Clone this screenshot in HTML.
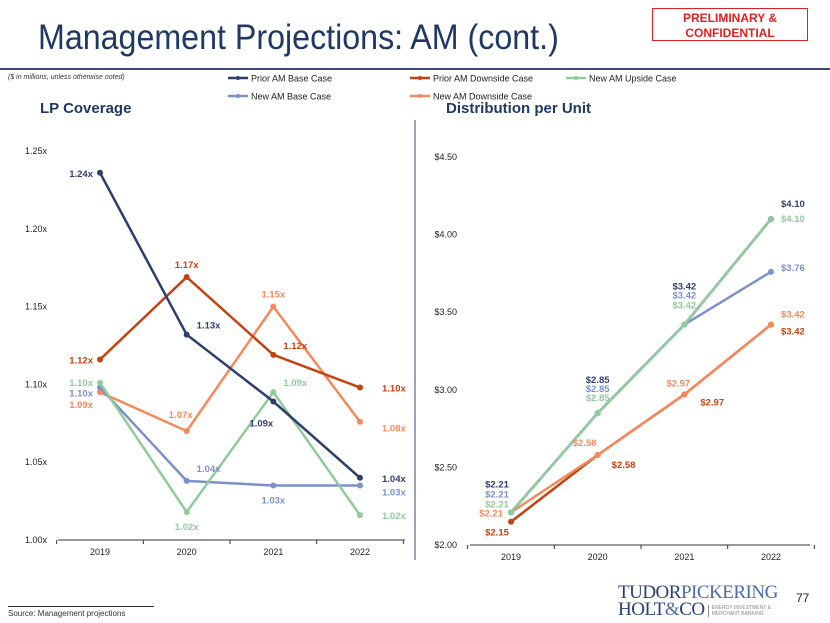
<!DOCTYPE html>
<html><head><meta charset="utf-8">
<style>
body{margin:0;width:830px;height:623px;background:#fff;font-family:"Liberation Sans",sans-serif;overflow:hidden;position:relative}
.abs{position:absolute}
</style></head><body>
<div class="abs" style="left:38px;top:18px;font-size:35px;color:#1F3864;transform:scaleX(0.92);transform-origin:left top;white-space:nowrap">Management Projections: AM (cont.)</div>
<div class="abs" style="left:652px;top:8px;width:156px;height:33px;border:1.5px solid #E02020;color:#E02020;font-weight:bold;font-size:12px;text-align:center;line-height:15px;padding-top:2px;box-sizing:border-box">PRELIMINARY &amp;<br>CONFIDENTIAL</div>
<div class="abs" style="left:0;top:68px;width:830px;height:2px;background:#3A4A7A"></div>
<div class="abs" style="left:8px;top:74px;font-size:7px;font-style:italic;color:#333">($ in millions, unless otherwise noted)</div>
<div class="abs" style="left:40px;top:100px;font-size:15px;font-weight:bold;color:#1F3864">LP Coverage</div>
<div class="abs" style="left:446px;top:100px;font-size:15px;font-weight:bold;color:#1F3864">Distribution per Unit</div>
<div class="abs" style="left:8px;top:606px;width:146px;height:1px;background:#333"></div>
<div class="abs" style="left:8px;top:609px;font-size:8px;color:#333">Source: Management projections</div>
<div class="abs" style="left:796px;top:591px;font-size:12px;color:#222">77</div>
<div class="abs" style="left:618px;top:584px;font-family:'Liberation Serif',serif;color:#2A3F7A;line-height:17px">
<div style="font-size:19px;letter-spacing:-0.5px">TUDOR<span style="color:#4A6AA8">PICKERING</span></div>
<div style="font-size:19px;letter-spacing:-0.5px">HOLT<span style="color:#4A6AA8">&amp;</span>CO<span style="font-family:'Liberation Sans';font-size:5px;color:#888;letter-spacing:0;vertical-align:middle;display:inline-block;line-height:6px;margin-left:3px;border-left:1px solid #888;padding-left:3px">ENERGY INVESTMENT &amp;<br>MERCHANT BANKING</span></div>
</div>
<svg id="chart" class="abs" style="left:0;top:0" width="830" height="623"></svg>
<script>
const years=["2019","2020","2021","2022"];
const seriesNames=["Prior AM Base Case","Prior AM Downside Case","New AM Upside Case","New AM Base Case","New AM Downside Case"];
const colors=["#2E3F6E","#C4420F","#8FCB9C","#7B90CC","#F48A5C"];
const lpPriorBase=[1.236,1.132,1.089,1.040];
const lpPriorDown=[1.116,1.169,1.119,1.098];
const lpNewUp=[1.101,1.018,1.095,1.016];
const lpNewBase=[1.098,1.038,1.035,1.035];
const lpNewDown=[1.095,1.070,1.150,1.076];
const lpTicks=[1.00,1.05,1.10,1.15,1.20,1.25];
const dpuPriorBase=[2.21,2.85,3.42,4.10];
const dpuPriorDown=[2.15,2.58,2.97,3.42];
const dpuNewUp=[2.21,2.85,3.42,4.10];
const dpuNewBase=[2.21,2.85,3.42,3.76];
const dpuNewDown=[2.21,2.58,2.97,3.42];
const dpuTicks=[2.00,2.50,3.00,3.50,4.00,4.50];

const svg=document.getElementById('chart');
const NS="http://www.w3.org/2000/svg";
function mk(t,a,p){const e=document.createElementNS(NS,t);for(const k in a)e.setAttribute(k,a[k]);(p||svg).appendChild(e);return e;}
function txt(s,x,y,a,p){const e=mk('text',Object.assign({x:x,y:y},a),p);e.textContent=s;return e;}

const legPos=[[228,78],[410,78],[566,78],[228,96],[410,96]];
seriesNames.forEach((n,i)=>{
  const g=mk('g',{});
  
  
  const [x,y]=legPos[i];
  mk('line',{x1:x,y1:y,x2:x+20,y2:y,stroke:colors[i],'stroke-width':2.5},g);
  mk('circle',{cx:x+10,cy:y,r:2,fill:colors[i]},g);
  txt(n,x+23,y+3.5,{'font-size':9,fill:'#222'},g);
});
mk('line',{x1:415,y1:120,x2:415,y2:560,stroke:'#3A4A7A','stroke-width':1});

function drawChart(cfg){
  const g=mk('g',{});
  
  
  const y=v=>cfg.y0-(v-cfg.t0)/(cfg.t1-cfg.t0)*(cfg.y0-cfg.y1);
  const x=i=>cfg.xs[0]+i*(cfg.xs[1]-cfg.xs[0])/3;
  cfg.ticks.forEach(t=>{const e=txt(cfg.fmtT(t),cfg.tickX,y(t)+3,{'font-size':9,fill:'#222','text-anchor':'end'},g);});
  const ax=mk('line',{x1:cfg.ax[0],y1:cfg.y0,x2:cfg.ax[1],y2:cfg.y0,stroke:'#333'},g);
  
  const step=(x(1)-x(0));
  for(let k=0;k<=4;k++){const xx=x(0)-step/2+k*step;mk('line',{x1:xx,y1:cfg.y0,x2:xx,y2:cfg.y0+4,stroke:'#333'},g);}
  years.forEach((yr,i)=>{const e=txt(yr,x(i),cfg.y0+15,{'font-size':9,fill:'#222','text-anchor':'middle'},g);});
  cfg.order.forEach(si=>{
    const d=cfg.data[si];
    const pl=mk('polyline',{points:d.map((v,i)=>x(i)+','+y(v)).join(' '),fill:'none',stroke:colors[si],'stroke-width':2.5},g);
    
    d.forEach((v,i)=>{
      const c=mk('circle',{cx:x(i),cy:y(v),r:3,fill:colors[si]},g);
      
    });
  });
  cfg.order.forEach(si=>{
    cfg.data[si].forEach((v,i)=>{
      const o=cfg.off[si][i];
      const l=txt(cfg.fmt(v),x(i)+o[0],y(v)+o[1],{'font-size':9.5,'font-weight':'bold',fill:colors[si],'text-anchor':o[2]||'middle'},g);
      
    });
  });
}
drawChart({name:'lp-coverage-chart',data:[lpPriorBase,lpPriorDown,lpNewUp,lpNewBase,lpNewDown],
  y0:540,y1:151,t0:1.00,t1:1.25,ticks:lpTicks,fmtT:t=>t.toFixed(2)+'x',fmt:v=>v.toFixed(2)+'x',
  xs:[100,360],ax:[58,405],tickX:47,order:[4,3,2,1,0],
  off:[[[-7,4,'end'],[10,-6,'start'],[-12,25],[22,4,'start']],
       [[-7,4,'end'],[0,-9],[10,-6,'start'],[22,4,'start']],
       [[-7,3,'end'],[0,18],[10,-6,'start'],[22,4,'start']],
       [[-7,9,'end'],[10,-9,'start'],[0,18],[22,10,'start']],
       [[-7,16,'end'],[-6,-13],[0,-9],[22,10,'start']]]});
drawChart({name:'distribution-per-unit-chart',data:[dpuPriorBase,dpuPriorDown,dpuNewUp,dpuNewBase,dpuNewDown],
  y0:545,y1:157,t0:2.00,t1:4.50,ticks:dpuTicks,fmtT:t=>'$'+t.toFixed(2),fmt:v=>'$'+v.toFixed(2),
  xs:[511,771],ax:[470,810],tickX:457,order:[0,1,4,3,2],
  off:[[[-14,-25],[0,-30],[0,-35],[10,-12,'start']],
       [[-14,14],[14,13,'start'],[16,11,'start'],[10,10,'start']],
       [[-14,-5],[0,-12],[0,-16],[10,3,'start']],
       [[-14,-15],[0,-21],[0,-26],[10,-1,'start']],
       [[-8,4,'end'],[-13,-9],[-6,-8],[10,-7,'start']]]});
</script>
</body></html>
